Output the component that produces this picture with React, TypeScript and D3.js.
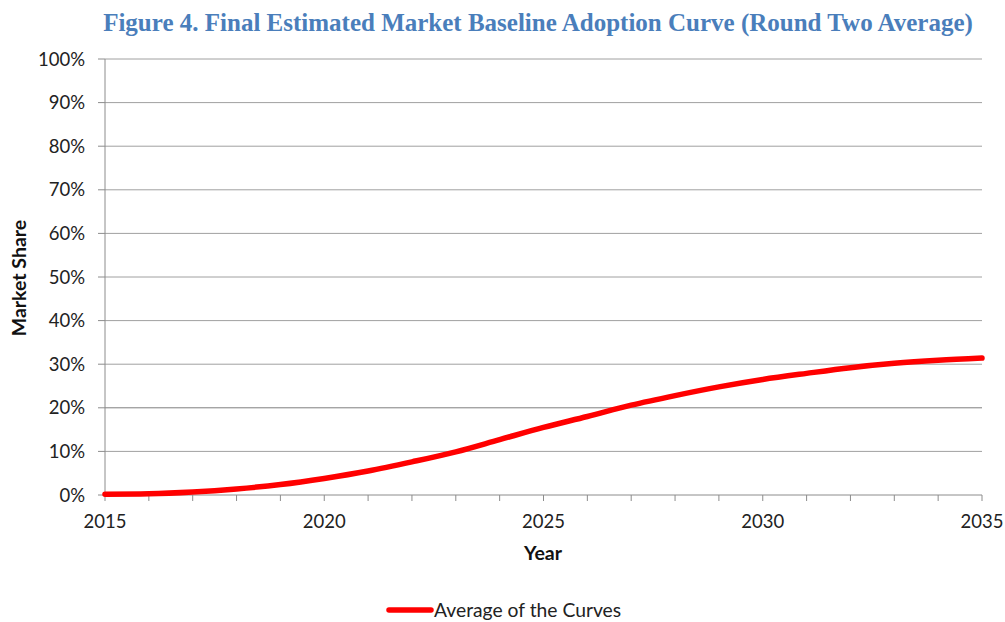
import React from "react";
import * as d3 from "d3";

const years = [2015, 2016, 2017, 2018, 2019, 2020, 2021, 2022, 2023, 2024, 2025, 2026, 2027, 2028, 2029, 2030, 2031, 2032, 2033, 2034, 2035];
const shares = [0.2, 0.3, 0.7, 1.4, 2.4, 3.8, 5.5, 7.6, 9.9, 12.7, 15.5, 18.0, 20.6, 22.8, 24.8, 26.5, 27.9, 29.2, 30.2, 30.9, 31.4];
const yTicks = [0, 10, 20, 30, 40, 50, 60, 70, 80, 90, 100];
const xLabels = [2015, 2020, 2025, 2030, 2035];
const title = "Figure 4. Final Estimated Market Baseline Adoption Curve (Round Two Average)";
const seriesName = "Average of the Curves";

export default function App() {
  const W = 1005, H = 622;
  const left = 105, right = 982, top = 59, bottom = 495;
  const x = d3.scaleLinear().domain([2015, 2035]).range([left, right]);
  const y = d3.scaleLinear().domain([0, 100]).range([bottom, top]);
  const line = d3.line<number>().x((_, i) => x(years[i])).y((d) => y(d)).curve(d3.curveMonotoneX);
  const font = "Lato, 'Open Sans', sans-serif";
  return (
    <svg width={W} height={H} style={{ position: "absolute", left: 0, top: 0 }}>
      <rect width={W} height={H} fill="#fff" />
      <text x={538} y={31} textAnchor="middle" fontFamily="'Liberation Serif', 'Times New Roman', serif" fontWeight="bold" fontSize={25} fill="#4a7ebb">{title}</text>
      {yTicks.map((t) => (
        <g key={t}>
          {t > 0 && <line x1={left} x2={right} y1={y(t)} y2={y(t)} stroke={t === 20 ? "#7f7f7f" : "#a0a0a0"} strokeWidth={1} />}
          <line x1={left - 7} x2={left} y1={y(t)} y2={y(t)} stroke="#8c8c8c" />
          <text x={85} y={y(t) + 6.5} textAnchor="end" fontFamily={font} fontSize={18.5} fill="#222">{t}%</text>
        </g>
      ))}
      <line x1={left} x2={left} y1={top} y2={bottom} stroke="#8c8c8c" />
      <line x1={left} x2={right} y1={bottom} y2={bottom} stroke="#8c8c8c" />
      {years.map((yr) => (
        <line key={yr} x1={x(yr)} x2={x(yr)} y1={bottom} y2={bottom + 6} stroke="#8c8c8c" />
      ))}
      {xLabels.map((yr) => (
        <text key={yr} x={x(yr)} y={528} textAnchor="middle" fontFamily={font} fontSize={18.5} fill="#222">{yr}</text>
      ))}
      <text x={543} y={560} textAnchor="middle" fontFamily={font} fontWeight="bold" fontSize={19.5} fill="#111">Year</text>
      <text transform={`translate(26,${278}) rotate(-90)`} textAnchor="middle" fontFamily={font} fontWeight="bold" fontSize={19.5} fill="#111">Market Share</text>
      <path d={line(shares) || ""} fill="none" stroke="#ff0000" strokeWidth={5.5} strokeLinecap="round" />
      <line x1={389} x2={431} y1={610} y2={610} stroke="#ff0000" strokeWidth={5.5} strokeLinecap="round" />
      <text x={434} y={617} fontFamily={font} fontSize={19.3} fill="#222">{seriesName}</text>
    </svg>
  );
}
